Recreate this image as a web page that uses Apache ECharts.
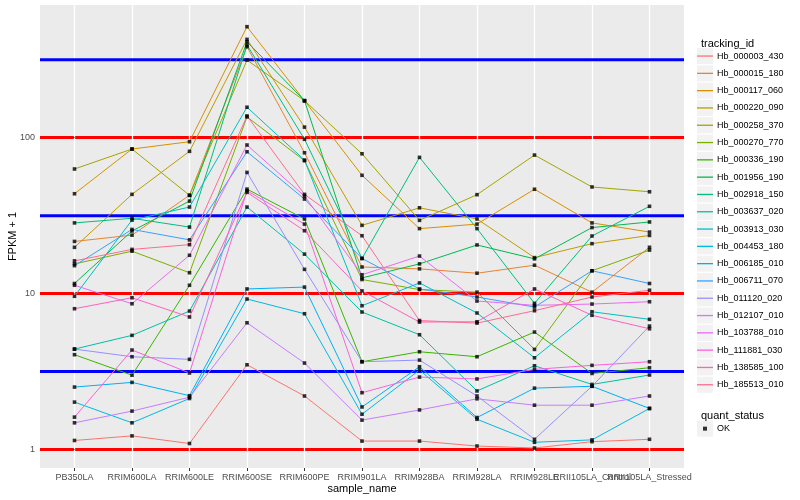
<!DOCTYPE html>
<html><head><meta charset="utf-8">
<script src="https://cdn.jsdelivr.net/npm/echarts@6/dist/echarts.min.js"></script>
<style>html,body{margin:0;padding:0;background:#fff}#c{width:800px;height:500px}</style>
</head><body><div id="c"></div>
<script>
const categories = ['PB350LA','RRIM600LA','RRIM600LE','RRIM600SE','RRIM600PE','RRIM901LA','RRIM928BA','RRIM928LA','RRIM928LE','RRII105LA_Control','RRII105LA_Stressed'];
const trackingIds = ['Hb_000003_430','Hb_000015_180','Hb_000117_060','Hb_000220_090','Hb_000258_370','Hb_000270_770','Hb_000336_190','Hb_001956_190','Hb_002918_150','Hb_003637_020','Hb_003913_030','Hb_004453_180','Hb_006185_010','Hb_006711_070','Hb_011120_020','Hb_012107_010','Hb_103788_010','Hb_111881_030','Hb_138585_100','Hb_185513_010'];

const Hb_000003_430 = [1.14, 1.22, 1.09, 3.49, 2.20, 1.13, 1.13, 1.05, 1.02, 1.12, 1.16];
const Hb_000015_180 = [21.6, 23.7, 42.7, 384, 80.1, 14.8, 14.4, 13.5, 15.2, 10.2, 19.8];
const Hb_000117_060 = [43.7, 84.6, 94.3, 516, 172.8, 57.4, 26.1, 27.9, 46.7, 28.4, 24.8];
const Hb_000220_090 = [19.8, 43.3, 81.8, 428, 117, 27.4, 35.5, 30.1, 17.0, 20.9, 23.6];
const Hb_000258_370 = [63.0, 84.6, 42.7, 315, 172.8, 78.9, 29.5, 43.1, 77.4, 48.3, 45.0];
const Hb_000270_770 = [15.5, 18.7, 13.6, 136, 71.2, 12.3, 10.6, 10.2, 4.38, 14.0, 19.0];
const Hb_000336_190 = [4.05, 2.99, 11.3, 46.8, 30.1, 3.65, 4.23, 3.93, 5.66, 3.07, 3.34];
const Hb_001956_190 = [11.6, 25.2, 39.2, 413, 173, 12.6, 15.5, 20.5, 16.7, 26.5, 28.8];
const Hb_002918_150 = [28.4, 30.4, 26.7, 394, 97.7, 16.8, 74.8, 26.1, 8.65, 23.4, 36.3];
const Hb_003637_020 = [4.40, 5.39, 7.72, 35.9, 17.9, 7.61, 5.44, 2.37, 3.44, 2.61, 3.00];
const Hb_003913_030 = [9.60, 29.6, 35.9, 157, 71.9, 8.35, 11.7, 7.50, 3.87, 7.64, 6.83];
const Hb_004453_180 = [2.01, 1.48, 2.12, 9.22, 7.42, 1.68, 3.23, 1.56, 1.11, 1.15, 1.83];
const Hb_006185_010 = [2.51, 2.69, 2.21, 10.7, 11.0, 1.87, 3.39, 1.60, 2.47, 2.54, 1.83];
const Hb_006711_070 = [15.1, 25.8, 22.1, 81.3, 40.4, 16.8, 10.7, 9.50, 8.19, 14.0, 11.6];
const Hb_011120_020 = [4.40, 3.93, 3.78, 59.9, 14.3, 3.65, 3.74, 2.20, 1.16, 2.54, 6.18];
const Hb_012107_010 = [1.48, 1.76, 2.16, 6.49, 3.58, 1.54, 1.79, 2.11, 1.92, 1.92, 2.20];
const Hb_103788_010 = [11.3, 8.60, 17.6, 89.8, 42.2, 13.2, 17.4, 8.95, 8.40, 8.56, 8.86];
const Hb_111881_030 = [1.61, 4.34, 3.09, 45.7, 27.9, 2.31, 2.91, 2.83, 3.26, 3.46, 3.65];
const Hb_138585_100 = [7.99, 9.40, 7.07, 44.6, 25.3, 10.4, 6.56, 6.59, 10.7, 7.25, 5.94];
const Hb_185513_010 = [16.2, 19.2, 20.6, 138, 43.3, 23.5, 6.71, 6.46, 7.76, 9.50, 10.5];

const seriesValues = [Hb_000003_430, Hb_000015_180, Hb_000117_060, Hb_000220_090, Hb_000258_370, Hb_000270_770, Hb_000336_190, Hb_001956_190, Hb_002918_150, Hb_003637_020, Hb_003913_030, Hb_004453_180, Hb_006185_010, Hb_006711_070, Hb_011120_020, Hb_012107_010, Hb_103788_010, Hb_111881_030, Hb_138585_100, Hb_185513_010];

const yTicks = [1, 10, 100];
const yMinorBreaks = [3.1623, 31.623, 316.23];
const quantStatus = ['OK'];

const palette = ['#F8766D','#EA8331','#D89000','#C09B00','#A3A500','#7CAE00','#39B600','#00BB4E','#00BF7D','#00C1A3','#00BFC4','#00BAE0','#00B0F6','#35A2FF','#9590FF','#C77CFF','#E76BF3','#FA62DB','#FF62BC','#FF6C91'];

const FONT = 'Liberation Sans, Arial, Helvetica, sans-serif';
const X_MIN = -0.6, X_MAX = 10.6;
const xIdx = categories.map((c, i) => i);
const xIdxMain = xIdx.filter(i => i !== 9);
const xIdxAlt = [9];

const lineSeries = trackingIds.map((id, k) => ({
  name: id,
  type: 'line',
  data: seriesValues[k].map((v, i) => [i, v]),
  showSymbol: false,
  symbol: 'none',
  color: palette[k],
  lineStyle: { width: 1, color: palette[k] },
  z: 2,
  silent: true
}));

const okPoints = [];
seriesValues.forEach(arr => arr.forEach((v, i) => okPoints.push([i, v])));

const keyTop = 47.4, keyStep = 17.3;
const keyRects = trackingIds.map((id, k) => ({
  type: 'rect',
  left: 697, top: keyTop + k * keyStep + 0.6,
  shape: { width: 16, height: keyStep - 1.2 },
  style: { fill: '#F2F2F2' },
  silent: true, z: -1
}));
keyRects.push({
  type: 'rect', left: 697, top: 420.6,
  shape: { width: 16, height: 16.1 },
  style: { fill: '#F2F2F2' }, silent: true, z: -1
});

const xLabelStyle = { formatter: v => categories[Math.round(v)] || '', fontFamily: FONT, fontSize: 9, color: '#4D4D4D', margin: 5, hideOverlap: false, showMinLabel: true, showMaxLabel: true };

const option = {
  animation: false,
  textStyle: { fontFamily: FONT },
  grid: { left: 40, right: 116, top: 5, bottom: 32, show: true, backgroundColor: '#EBEBEB', borderWidth: 0, outerBoundsMode: 'none' },
  title: [
    { text: 'tracking_id', left: 696, top: 33, textStyle: { fontFamily: FONT, fontSize: 11, fontWeight: 'normal', color: '#000' } },
    { text: 'quant_status', left: 696, top: 405, textStyle: { fontFamily: FONT, fontSize: 11, fontWeight: 'normal', color: '#000' } }
  ],
  legend: [
    {
      data: trackingIds,
      orient: 'vertical',
      left: 697, top: keyTop,
      itemWidth: 16, itemHeight: 1.3,
      itemGap: 0,
      icon: 'rect',
      padding: 0,
      selectedMode: false,
      textStyle: { fontFamily: FONT, fontSize: 9, color: '#000', lineHeight: keyStep, padding: [0, 0, 0, -1] }
    },
    {
      data: quantStatus,
      orient: 'vertical',
      left: 703, top: 420.6,
      itemWidth: 4, itemHeight: 4,
      icon: 'rect',
      padding: 0,
      selectedMode: false,
      itemStyle: { color: '#000' },
      textStyle: { fontFamily: FONT, fontSize: 9, color: '#000', lineHeight: 16.1, padding: [0, 0, 0, 5] }
    }
  ],
  graphic: keyRects,
  xAxis: [{
    type: 'value',
    min: X_MIN, max: X_MAX,
    name: 'sample_name',
    nameLocation: 'middle',
    nameGap: 15,
    nameMoveOverlap: false,
    nameTextStyle: { fontFamily: FONT, fontSize: 11, color: '#000' },
    axisLine: { show: false },
    axisTick: { show: true, length: 3, lineStyle: { color: '#333333', width: 1 }, customValues: xIdx },
    axisLabel: Object.assign({ customValues: xIdxMain }, xLabelStyle),
    splitLine: { show: true, lineStyle: { color: '#ffffff', width: 1.3 } },
    minorSplitLine: { show: false }
  }, {
    type: 'value',
    position: 'bottom',
    min: X_MIN, max: X_MAX,
    axisLine: { show: false },
    axisTick: { show: false },
    axisLabel: Object.assign({ customValues: xIdxAlt }, xLabelStyle),
    splitLine: { show: false }
  }],
  yAxis: {
    type: 'log',
    logBase: 10,
    min: 0.759, max: 711,
    name: 'FPKM + 1',
    nameLocation: 'middle',
    nameRotate: 90,
    nameGap: 22,
    nameMoveOverlap: false,
    nameTextStyle: { fontFamily: FONT, fontSize: 11, color: '#000' },
    axisLine: { show: false },
    axisTick: { show: true, length: 3, lineStyle: { color: '#333333', width: 1 }, customValues: yTicks },
    axisLabel: { customValues: yTicks, formatter: v => String(Math.round(v)), fontFamily: FONT, fontSize: 9, color: '#4D4D4D', margin: 5 },
    splitLine: { show: true, lineStyle: { color: '#ff0000', width: 3 } },
    minorSplitLine: { show: false }
  },
  series: lineSeries.concat([{
    name: 'OK',
    type: 'scatter',
    data: okPoints,
    symbol: 'rect',
    symbolSize: 3.6,
    itemStyle: { color: '#000' },
    z: 5,
    silent: true
  }])
};

const chart = echarts.init(document.getElementById('c'), null, { renderer: 'canvas' });
chart.setOption(option);

const xl = chart.convertToPixel({ xAxisIndex: 0 }, X_MIN);
const xr = chart.convertToPixel({ xAxisIndex: 0 }, X_MAX);
function hLine(v, w) {
  const py = chart.convertToPixel({ yAxisIndex: 0 }, v);
  return { type: 'line', silent: true, z: 1,
    shape: { x1: xl, y1: py, x2: xr, y2: py },
    style: { stroke: '#0000ff', lineWidth: w } };
}
const gridGraphics = yMinorBreaks.map(v => hLine(v, 3));
chart.setOption({ graphic: keyRects.concat(gridGraphics) });
</script>
</body></html>
